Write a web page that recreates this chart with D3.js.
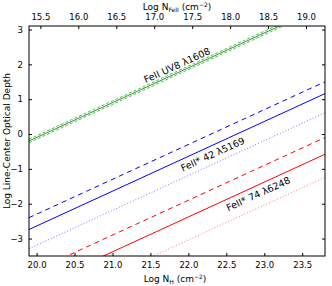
<!DOCTYPE html>
<html>
  <head>
    <meta charset="utf-8">
    <style>
      body { margin: 0; background: #fff; }
      svg text { font-family: "DejaVu Sans", sans-serif; fill: #000; }
    </style>
    <script src="https://cdn.jsdelivr.net/npm/d3@7"></script>
  </head>
  <body>
    <svg id="chart" width="332" height="286"></svg>
    <script>
      // log N_H range and derived FeII column (top axis offset)
      var xDomain = [19.9, 23.8];
      var yDomain = [-3.5, 3.1];
      var feOffset = 4.55;
      var xTicks = [20.0, 20.5, 21.0, 21.5, 22.0, 22.5, 23.0, 23.5];
      var topTicks = [15.5, 16.0, 16.5, 17.0, 17.5, 18.0, 18.5, 19.0];
      var yTicks = [-3, -2, -1, 0, 1, 2, 3];

      // each line: tau = logNH - zeroPoint  (slope 1)
      var lineNames = ['uv8_hi', 'uv8', 'uv8_lo', 'm42_hi', 'm42', 'm42_lo', 'm74_hi', 'm74', 'm74_lo'];
      var lineZero  = [20.05, 20.1, 20.15, 22.3, 22.64, 23.19, 23.9, 24.38, 25.04];
      var lineColor = ['#5b5', '#393', '#5b5', '#00f', '#00f', '#77f', '#f00', '#f00', '#f77'];
      var lineDash  = ['3,2', null, '3,2', '5,4', null, '1,2', '5,4', null, '1,2'];

      var labelText = ['FeII UV8 \u03bb1608', 'FeII* 42 \u03bb5169', 'FeII* 74 \u03bb6248'];
      var labelAt   = [[21.85, 1.97], [22.32, -0.58], [22.92, -1.72]];

      var svg = d3.select('#chart');
      var L = 29, R = 325, T = 26, B = 256;
      var x = d3.scaleLinear().domain(xDomain).range([L, R]);
      var xTop = d3.scaleLinear().domain([xDomain[0] - feOffset, xDomain[1] - feOffset]).range([L, R]);
      var y = d3.scaleLinear().domain(yDomain).range([B, T]);

      svg.append('clipPath').attr('id', 'clip')
        .append('rect').attr('x', L).attr('y', T).attr('width', R - L).attr('height', B - T);

      var g = svg.append('g').attr('clip-path', 'url(#clip)');
      lineZero.forEach(function(z, i) {
        var pts = [[xDomain[0], xDomain[0] - z], [xDomain[1], xDomain[1] - z]];
        g.append('path')
          .attr('d', d3.line().x(function(d) { return x(d[0]); }).y(function(d) { return y(d[1]); })(pts))
          .attr('fill', 'none')
          .attr('stroke', lineColor[i])
          .attr('stroke-width', 1)
          .attr('stroke-dasharray', lineDash[i]);
      });

      var ang = -Math.atan((y(0) - y(1)) / (x(1) - x(0))) * 180 / Math.PI;
      labelText.forEach(function(t, i) {
        svg.append('text')
          .attr('transform', 'translate(' + x(labelAt[i][0]) + ',' + y(labelAt[i][1]) + ') rotate(' + ang + ')')
          .attr('text-anchor', 'middle').attr('dy', '0.35em')
          .attr('font-size', 9.5).text(t);
      });

      // frame
      svg.append('rect').attr('x', L).attr('y', T).attr('width', R - L).attr('height', B - T)
        .attr('fill', 'none').attr('stroke', '#000').attr('stroke-width', 1);

      function fmt(v) { return v.toFixed(1); }
      var tk = 3;
      var axB = svg.append('g').attr('transform', 'translate(0,' + B + ')')
        .call(d3.axisBottom(x).tickValues(xTicks).tickFormat(fmt).tickSizeInner(-tk).tickSizeOuter(0).tickPadding(6));
      var axT = svg.append('g').attr('transform', 'translate(0,' + T + ')')
        .call(d3.axisTop(xTop).tickValues(topTicks).tickFormat(fmt).tickSizeInner(-tk).tickSizeOuter(0).tickPadding(6));
      var axL = svg.append('g').attr('transform', 'translate(' + L + ',0)')
        .call(d3.axisLeft(y).tickValues(yTicks).tickFormat(function(v) { return v < 0 ? '\u2212' + (-v) : v; })
          .tickSizeInner(-tk).tickSizeOuter(0).tickPadding(6));
      var axR = svg.append('g').attr('transform', 'translate(' + R + ',0)')
        .call(d3.axisRight(y).tickValues(yTicks).tickFormat('').tickSizeInner(-tk).tickSizeOuter(0));
      [axB, axT, axL, axR].forEach(function(a) {
        a.select('.domain').remove();
        a.selectAll('text').attr('font-size', 8.5).attr('font-family', '"DejaVu Sans", sans-serif');
        a.selectAll('line').attr('stroke', '#000');
      });

      // axis titles
      var bt = svg.append('text').attr('x', 175).attr('y', 282).attr('text-anchor', 'middle').attr('font-size', 9);
      bt.append('tspan').text('Log N');
      bt.append('tspan').attr('font-size', 6).attr('dy', 2).text('H');
      bt.append('tspan').attr('dy', -2).text(' (cm');
      bt.append('tspan').attr('font-size', 6).attr('dy', -3).text('\u22122');
      bt.append('tspan').attr('dy', 3).text(')');

      var tt = svg.append('text').attr('x', 177).attr('y', 10).attr('text-anchor', 'middle').attr('font-size', 9);
      tt.append('tspan').text('Log N');
      tt.append('tspan').attr('font-size', 6).attr('dy', 2).text('FeII');
      tt.append('tspan').attr('dy', -2).text(' (cm');
      tt.append('tspan').attr('font-size', 6).attr('dy', -3).text('\u22122');
      tt.append('tspan').attr('dy', 3).text(')');

      svg.append('text').attr('transform', 'translate(10,' + ((T + B) / 2) + ') rotate(-90)')
        .attr('text-anchor', 'middle').attr('font-size', 9).text('Log Line-Center Optical Depth');
    </script>
  </body>
</html>
